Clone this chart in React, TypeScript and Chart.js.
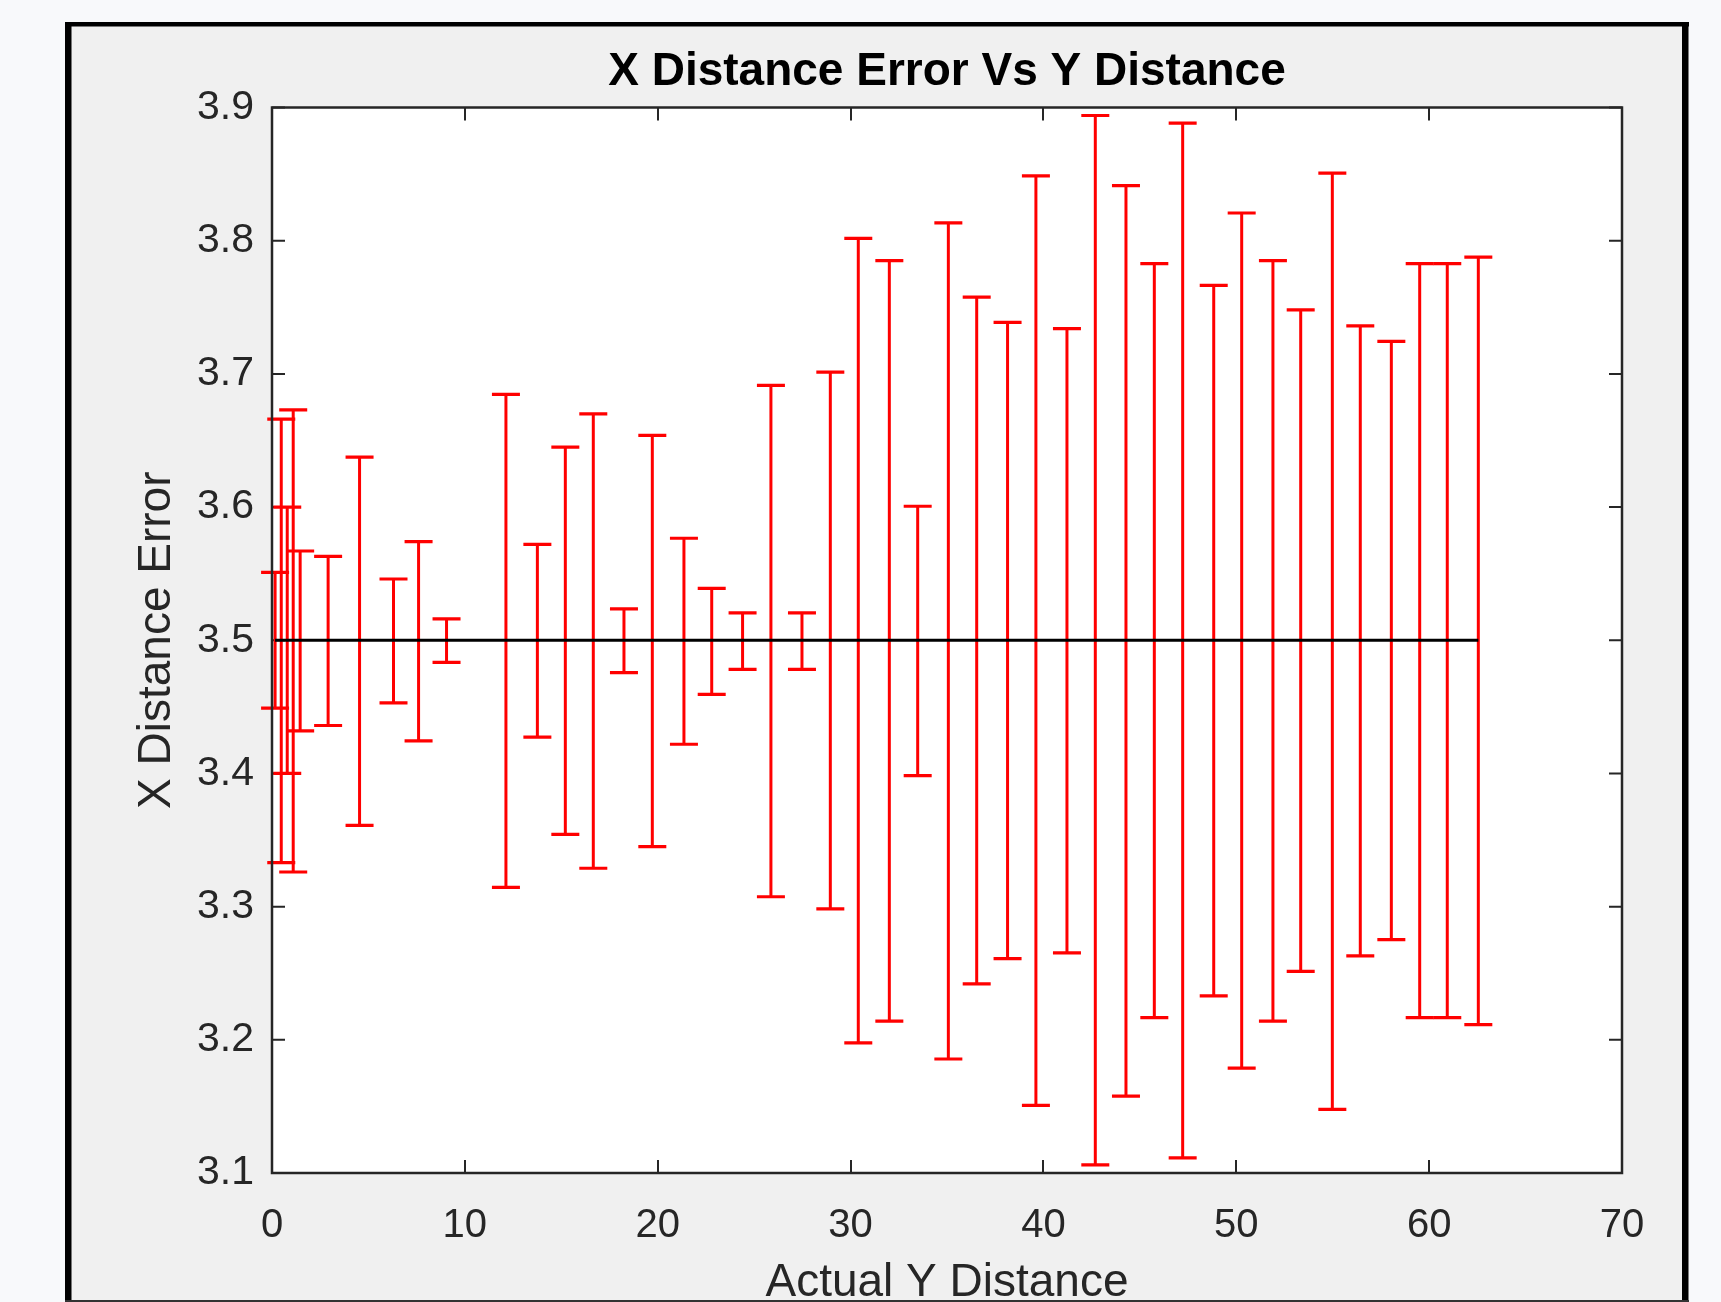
import React, { useEffect, useRef } from 'react';
import { Chart, registerables } from 'chart.js';

Chart.register(...registerables);

// ---- Data ----
const xValues = [
  0.16, 0.48, 0.79, 1.1, 1.46, 2.91, 4.54, 6.3, 7.6, 9.05,
  12.13, 13.76, 15.21, 16.66, 18.25, 19.72, 21.36, 22.8, 24.4, 25.87,
  27.48, 28.95, 30.4, 32.01, 33.48, 35.07, 36.54, 38.14, 39.61, 41.22,
  42.69, 44.28, 45.75, 47.22, 48.83, 50.28, 51.9, 53.34, 54.98, 56.43,
  58.04, 59.51, 60.94, 62.55,
];

const meanValues = [
  3.5, 3.5, 3.5, 3.5, 3.5, 3.5, 3.5, 3.5, 3.5, 3.5,
  3.5, 3.5, 3.5, 3.5, 3.5, 3.5, 3.5, 3.5, 3.5, 3.5,
  3.5, 3.5, 3.5, 3.5, 3.5, 3.5, 3.5, 3.5, 3.5, 3.5,
  3.5, 3.5, 3.5, 3.5, 3.5, 3.5, 3.5, 3.5, 3.5, 3.5,
  3.5, 3.5, 3.5, 3.5,
];

const lowerValues = [
  3.449, 3.333, 3.4, 3.326, 3.432, 3.436, 3.361, 3.453, 3.4245, 3.4834,
  3.3145, 3.4273, 3.3543, 3.3288, 3.4757, 3.345, 3.4219, 3.4594, 3.4782, 3.3074,
  3.4782, 3.2983, 3.1977, 3.214, 3.3984, 3.1856, 3.242, 3.261, 3.1508, 3.2652,
  3.1061, 3.1577, 3.2167, 3.1113, 3.233, 3.1788, 3.214, 3.2514, 3.1477, 3.263,
  3.2752, 3.2167, 3.2167, 3.2114,
];

const upperValues = [
  3.551, 3.666, 3.6, 3.673, 3.567, 3.563, 3.6375, 3.546, 3.574, 3.516,
  3.6846, 3.572, 3.645, 3.67, 3.5235, 3.6538, 3.5766, 3.539, 3.5205, 3.6913,
  3.5205, 3.7013, 3.8018, 3.785, 3.6006, 3.8134, 3.7576, 3.7386, 3.8487, 3.7339,
  3.894, 3.8413, 3.7828, 3.8882, 3.7665, 3.8208, 3.785, 3.748, 3.8507, 3.736,
  3.7244, 3.7828, 3.7828, 3.7876,
];

const xTickValues = [0, 10, 20, 30, 40, 50, 60, 70];
const yTickValues = [3.1, 3.2, 3.3, 3.4, 3.5, 3.6, 3.7, 3.8, 3.9];

const titleText = 'X Distance Error Vs Y Distance';
const xTitleText = 'Actual Y Distance';
const yTitleText = 'X Distance Error';

const FONT = '"Liberation Sans", Arial, Helvetica, sans-serif';

const backgroundPlugin = {
  id: 'matlabBackground',
  beforeDraw(chart: any) {
    const { ctx, width, height, chartArea } = chart;
    ctx.save();
    ctx.fillStyle = '#f8f9fb';
    ctx.fillRect(0, 0, width, height);
    ctx.fillStyle = '#f0f0f0';
    ctx.fillRect(68, 24, 1617, height - 24);
    // frame
    ctx.fillStyle = '#000000';
    ctx.fillRect(65, 22, 1624, 4.5);
    ctx.fillRect(65, 22, 6.5, height - 22);
    ctx.fillRect(1682, 22, 6.5, height - 22);
    ctx.fillStyle = '#333333';
    ctx.fillRect(65, height - 2, 1624, 2);
    // plot area
    ctx.fillStyle = '#ffffff';
    ctx.fillRect(chartArea.left, chartArea.top, chartArea.right - chartArea.left, chartArea.bottom - chartArea.top);
    ctx.restore();
  },
  beforeDatasetsDraw(chart: any) {
    const { ctx, chartArea } = chart;
    const xs = chart.scales.x;
    const ys = chart.scales.y;
    ctx.save();
    // inner ticks
    ctx.strokeStyle = '#262626';
    ctx.lineWidth = 2;
    const tl = 13;
    ctx.beginPath();
    xTickValues.forEach((v) => {
      const px = Math.round(xs.getPixelForValue(v));
      ctx.moveTo(px, chartArea.bottom);
      ctx.lineTo(px, chartArea.bottom - tl);
      ctx.moveTo(px, chartArea.top);
      ctx.lineTo(px, chartArea.top + tl);
    });
    yTickValues.forEach((v) => {
      const py = ys.getPixelForValue(v);
      ctx.moveTo(chartArea.left, py);
      ctx.lineTo(chartArea.left + tl, py);
      ctx.moveTo(chartArea.right, py);
      ctx.lineTo(chartArea.right - tl, py);
    });
    ctx.stroke();

    // error bars (drawn under the mean line)
    ctx.strokeStyle = '#ff0000';
    const capHalf = 14;
    for (let i = 0; i < xValues.length; i++) {
      const px = xs.getPixelForValue(xValues[i]);
      const pl = ys.getPixelForValue(lowerValues[i]);
      const pu = ys.getPixelForValue(upperValues[i]);
      ctx.lineWidth = 3;
      ctx.beginPath();
      ctx.moveTo(px, pl);
      ctx.lineTo(px, pu);
      ctx.stroke();
      ctx.lineWidth = 3.2;
      ctx.beginPath();
      ctx.moveTo(px - capHalf, pl);
      ctx.lineTo(px + capHalf, pl);
      ctx.moveTo(px - capHalf, pu);
      ctx.lineTo(px + capHalf, pu);
      ctx.stroke();
    }
    ctx.restore();
  },
  afterDatasetsDraw(chart: any) {
    const { ctx, chartArea } = chart;
    ctx.save();
    ctx.strokeStyle = '#262626';
    ctx.lineWidth = 2.5;
    ctx.strokeRect(chartArea.left, chartArea.top, chartArea.right - chartArea.left, chartArea.bottom - chartArea.top);
    ctx.restore();
  },
};

export default function App() {
  const canvasRef = useRef<HTMLCanvasElement | null>(null);

  useEffect(() => {
    if (!canvasRef.current) return;
    const chart = new Chart(canvasRef.current, {
      type: 'scatter',
      data: {
        datasets: [
          {
            label: 'mean',
            data: xValues.map((x, i) => ({ x, y: meanValues[i] })),
            showLine: true,
            borderColor: '#000000',
            borderWidth: 3,
            pointRadius: 0,
            fill: false,
          },
        ],
      },
      options: {
        animation: false,
        responsive: false,
        devicePixelRatio: 1,
        layout: { padding: { left: 0, right: 99, top: 0, bottom: 0 } },
        plugins: {
          legend: { display: false },
          tooltip: { enabled: false },
          title: {
            display: true,
            fullSize: false,
            text: titleText,
            color: '#000000',
            font: { family: FONT, size: 46, weight: 'bold', lineHeight: 1.2 },
            padding: { top: 45, bottom: 7.3 },
          },
        },
        scales: {
          x: {
            type: 'linear',
            min: 0,
            max: 70,
            afterBuildTicks: (scale: any) => {
              scale.ticks = xTickValues.map((v) => ({ value: v }));
            },
            afterFit: (scale: any) => {
              scale.height = 129;
            },
            grid: { display: false },
            border: { display: false },
            ticks: {
              autoSkip: false,
              maxRotation: 0,
              color: '#262626',
              padding: 21,
              font: { family: FONT, size: 40, lineHeight: 1.2 },
              callback: (v: any) => String(v),
            },
            title: {
              display: true,
              text: xTitleText,
              color: '#262626',
              font: { family: FONT, size: 46, lineHeight: 1 },
              padding: { top: 0, bottom: -4.5 },
            },
          },
          y: {
            type: 'linear',
            min: 3.1,
            max: 3.9,
            afterBuildTicks: (scale: any) => {
              scale.ticks = yTickValues.map((v) => ({ value: v }));
            },
            afterFit: (scale: any) => {
              scale.width = 272;
            },
            grid: { display: false },
            border: { display: false },
            ticks: {
              autoSkip: false,
              color: '#262626',
              padding: 10,
              font: { family: FONT, size: 41, lineHeight: 1.2 },
              callback: (v: any) => Number(v).toFixed(1),
            },
            title: {
              display: true,
              text: yTitleText,
              color: '#262626',
              font: { family: FONT, size: 46, lineHeight: 1 },
              padding: { top: 134, bottom: 0 },
            },
          },
        },
      },
      plugins: [backgroundPlugin],
    });
    return () => chart.destroy();
  }, []);

  return (
    <div style={{ position: 'absolute', left: 0, top: 0, width: 1721, height: 1302, overflow: 'hidden' }}>
      <canvas ref={canvasRef} width={1721} height={1302} style={{ display: 'block', width: 1721, height: 1302 }} />
    </div>
  );
}
